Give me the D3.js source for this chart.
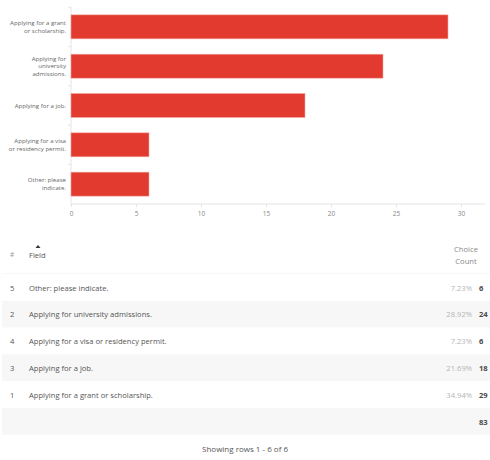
<!DOCTYPE html>
<html>
<head>
<meta charset="utf-8">
<script src="https://cdn.jsdelivr.net/npm/d3@7"></script>
<style>
  body { margin: 0; background: #fff; }
  svg text { font-family: "Open Sans", sans-serif; }
</style>
</head>
<body>
<svg id="chart" width="490" height="460"></svg>
<script>
// chart data
const barLabels = ["Applying for a grant or scholarship.", "Applying for university admissions.",
  "Applying for a job.", "Applying for a visa or residency permit.", "Other: please indicate."];
const barCounts = [29, 24, 18, 6, 6];
const xTicks = [0, 5, 10, 15, 20, 25, 30];

// wrapped label lines as drawn on the axis
const labelLines = [
  ["Applying for a grant", "or scholarship."],
  ["Applying for", "university", "admissions."],
  ["Applying for a job."],
  ["Applying for a visa", "or residency permit."],
  ["Other: please", "indicate."]
];

// table data
const rowNums = [5, 2, 4, 3, 1];
const rowFields = ["Other: please indicate.", "Applying for university admissions.",
  "Applying for a visa or residency permit.", "Applying for a job.", "Applying for a grant or scholarship."];
const rowPcts = ["7.23%", "28.92%", "7.23%", "21.69%", "34.94%"];
const rowCounts = [6, 24, 6, 18, 29];
const total = 83;

const svg = d3.select("#chart");
let padding = {top: 7, right: 5, bottom: 256, left: 71};
const width = 490, height = 460;

let x = d3.scaleLinear().domain([0, 30]).range([padding.left, padding.left + 390]);
let y = d3.scaleBand().domain(barLabels).range([padding.top, height - padding.bottom]).paddingInner(0.39).paddingOuter(0.2);

// x axis
const xAxis = svg.append("g")
  .attr("transform", "translate(0," + (height - padding.bottom) + ")")
  .call(d3.axisBottom(x).tickValues(xTicks).tickSize(3).tickSizeOuter(0));
xAxis.select(".domain").attr("stroke", "#e3e3e3").attr("d", "M" + padding.left + ",0H" + (width - padding.right));
xAxis.selectAll(".tick line").attr("stroke", "#e3e3e3");
xAxis.selectAll(".tick text").attr("fill", "#888").attr("font-size", 6.5).attr("dy", "0.9em");

// y axis line + ticks at band edges
svg.append("line")
  .attr("x1", padding.left).attr("x2", padding.left)
  .attr("y1", padding.top).attr("y2", height - padding.bottom)
  .attr("stroke", "#e6e6e6");
const step = y.step();
svg.selectAll(".ytick")
  .data(d3.range(barLabels.length))
  .join("line")
    .attr("x1", padding.left - 3).attr("x2", padding.left)
    .attr("y1", i => y(barLabels[i]) - y.paddingInner() * step / 2)
    .attr("y2", i => y(barLabels[i]) - y.paddingInner() * step / 2)
    .attr("stroke", "#e6e6e6");

// bars
svg.selectAll(".bar")
  .data(barLabels)
  .join("rect")
    .attr("class", "bar")
    .attr("x", x(0))
    .attr("y", d => y(d))
    .attr("width", (d, i) => x(barCounts[i]) - x(0))
    .attr("height", y.bandwidth())
    .attr("fill", "#e23a2f")
    .attr("stroke", "#f3a9a4")
    .attr("stroke-width", 0.6);

// category labels
svg.selectAll(".ylab")
  .data(barLabels)
  .join("text")
    .attr("class", "ylab")
    .attr("text-anchor", "end")
    .attr("font-size", 6.1)
    .attr("fill", "#666")
    .each(function(d, i) {
      const lines = labelLines[i];
      const cy = y(d) + y.bandwidth() / 2;
      const lh = 7.6;
      d3.select(this).selectAll("tspan")
        .data(lines)
        .join("tspan")
          .attr("x", padding.left - 5)
          .attr("y", (l, j) => cy + (j - (lines.length - 1) / 2) * lh)
          .attr("dy", "0.35em")
          .text(l => l);
    });

// ------------ table ------------
const rowH = 26.8;
const headBottom = 274;
const fs = 7.6;

svg.append("text").attr("x", 10).attr("y", 255).attr("dy", "0.35em")
  .attr("font-size", 6.5).attr("fill", "#999").text("#");
svg.append("text").attr("x", 29).attr("y", 255).attr("dy", "0.35em")
  .attr("font-size", fs).attr("fill", "#555").text("Field");
svg.append("path").attr("d", "M35.5,248L38,245L40.5,248Z").attr("fill", "#333");
svg.append("text").attr("x", 466).attr("y", 249).attr("dy", "0.35em").attr("text-anchor", "middle")
  .attr("font-size", fs).attr("fill", "#888").text("Choice");
svg.append("text").attr("x", 466).attr("y", 261).attr("dy", "0.35em").attr("text-anchor", "middle")
  .attr("font-size", fs).attr("fill", "#888").text("Count");
svg.append("line").attr("x1", 2).attr("x2", width).attr("y1", headBottom).attr("y2", headBottom)
  .attr("stroke", "#f0f0f0");

const rows = svg.selectAll(".row")
  .data(d3.range(rowNums.length + 1))
  .join("g")
    .attr("class", "row")
    .attr("transform", i => "translate(0," + (headBottom + i * rowH) + ")");

rows.append("rect")
  .attr("x", 2).attr("width", width - 2).attr("height", rowH)
  .attr("fill", i => i % 2 === 1 ? "#f7f7f7" : "#fff");

rows.filter(i => i < rowNums.length).each(function(i) {
  const g = d3.select(this);
  const ty = rowH / 2 + 0.5;
  g.append("text").attr("x", 10).attr("y", ty).attr("dy", "0.35em")
    .attr("font-size", fs).attr("fill", "#555").text(rowNums[i]);
  g.append("text").attr("x", 29).attr("y", ty).attr("dy", "0.35em")
    .attr("font-size", fs).attr("fill", "#555").text(rowFields[i]);
  g.append("text").attr("x", 472).attr("y", ty).attr("dy", "0.35em").attr("text-anchor", "end")
    .attr("font-size", fs).attr("fill", "#b5b5b5").text(rowPcts[i]);
  g.append("text").attr("x", 479).attr("y", ty).attr("dy", "0.35em")
    .attr("font-size", fs).attr("font-weight", "bold").attr("fill", "#4a4a4a").text(rowCounts[i]);
});

rows.filter(i => i === rowNums.length)
  .append("text").attr("x", 479).attr("y", rowH / 2 + 0.5).attr("dy", "0.35em")
  .attr("font-size", fs).attr("font-weight", "bold").attr("fill", "#4a4a4a").text(total);

svg.append("text").attr("x", 245).attr("y", 449).attr("dy", "0.35em").attr("text-anchor", "middle")
  .attr("font-size", 8).attr("fill", "#555").text("Showing rows 1 - 6 of 6");
</script>
</body>
</html>
